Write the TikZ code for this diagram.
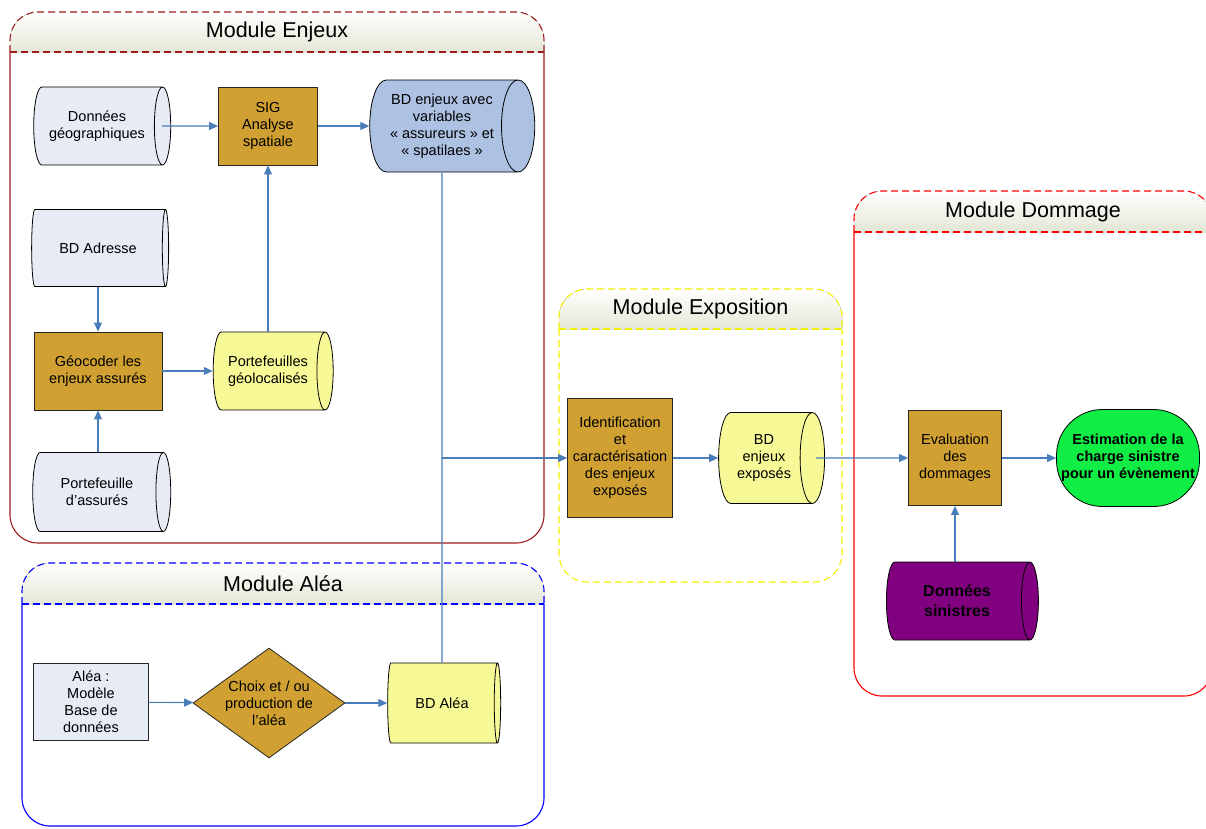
\documentclass[tikz,border=0pt]{standalone}
\usepackage{fontspec}
\setmainfont{Liberation Sans}
\usepackage{tikz}
\usetikzlibrary{shapes.geometric, arrows.meta}

\definecolor{ocre}{HTML}{D0A032}
\definecolor{bleupale}{HTML}{E6EBF5}
\definecolor{bleubd}{HTML}{ADC2E3}
\definecolor{jaunebd}{HTML}{F7F996}
\definecolor{vertvif}{HTML}{10EE46}
\definecolor{pourpre}{HTML}{800080}
\definecolor{fleche}{HTML}{4A7EBB}
\definecolor{bordeaux}{HTML}{9E1C1C}
\definecolor{entete}{HTML}{E3E7D5}
\definecolor{jaunemod}{HTML}{F2F200}

\begin{document}
\begin{tikzpicture}[x=1pt, y=-1pt, font=\fontsize{14.5}{17}\selectfont,
  tirets/.style={dash pattern=on 7pt off 4pt},
  base/.style={cylinder, draw=black, line width=0.8pt, aspect=0.5, align=center, inner sep=1pt},
  traitement/.style={rectangle, draw=black!85, line width=0.8pt, fill=ocre, align=center, inner sep=1pt},
  lien/.style={draw=fleche, line width=1.1pt, -{Triangle[length=9pt, width=8pt]}},
  ligne/.style={draw=fleche, line width=1.1pt}]
  \useasboundingbox (0,0) rectangle (1206,828);
  \clip (0,0) rectangle (1206,828);

  % modules
  \foreach \xa/\xb/\yh/\ys/\yb/\coul/\corps/\titre [count=\k] in
    {10/544/12/52/543/bordeaux/solid/Module Enjeux,
     22/544/563/604/826/blue/solid/Module Aléa,
     559/842/289/329/582/jaunemod/tirets/Module Exposition,
     854/1212/191/232/696/red/solid/Module Dommage} {
    \fill[top color=white, bottom color=entete, rounded corners=28pt]
      (\xa,\ys) -- (\xa,\yh) -- (\xb,\yh) -- (\xb,\ys);
    \draw[\coul, tirets, line width=1.1pt, rounded corners=28pt]
      (\xa,\ys) -- (\xa,\yh) -- (\xb,\yh) -- (\xb,\ys);
    \draw[\coul, tirets, line width=1.1pt] (\xa,\ys) -- (\xb,\ys);
    \draw[\coul, \corps, line width=1.1pt, rounded corners=28pt]
      (\xa,\ys) -- (\xa,\yb) -- (\xb,\yb) -- (\xb,\ys);
    \node[font=\fontsize{21.5}{24}\selectfont] (module\k) at ({(\xa+\xb)/2}, {(\yh+\ys)/2}) {\titre};
  }

  % module enjeux (minimum height = longueur, minimum width = diametre)
  \node[base, fill=bleupale, minimum height=137, minimum width=78] (geo) at (97,126) {Données\\géographiques};
  \node[traitement, minimum width=99, minimum height=78] (sig) at (268,126) {SIG\\Analyse\\spatiale};
  \node[base, fill=bleubd, minimum height=165, minimum width=92] (bdenjeux) at (442,126)
    {BD enjeux avec\\variables\\« assureurs » et\\« spatilaes »};
  \node[base, fill=bleupale, minimum height=137, minimum width=77] (adresse) at (98,248) {BD Adresse};
  \node[traitement, minimum width=128, minimum height=78] (geocoder) at (98,371) {Géocoder les\\enjeux assurés};
  \node[base, fill=jaunebd, minimum height=120, minimum width=78] (geoloc) at (268,371) {Portefeuilles\\géolocalisés};
  \node[base, fill=bleupale, minimum height=138, minimum width=79] (assures) at (97,492) {Portefeuille\\d’assurés};

  % module alea
  \node[rectangle, draw=black!85, line width=0.8pt, fill=bleupale, align=center, minimum width=115, minimum height=77]
    (alea) at (91,702) {Aléa :\\Modèle\\Base de\\données};
  \node[diamond, draw=black!85, line width=0.8pt, fill=ocre, align=center, aspect=1.4, inner sep=0pt,
    minimum width=152, minimum height=110] (choix) at (269,703) {Choix et / ou\\production de\\l’aléa};
  \node[base, fill=jaunebd, minimum height=113, minimum width=80] (bdalea) at (442,703) {BD Aléa};

  % module exposition
  \node[traitement, minimum width=105, minimum height=119] (ident) at (620,458)
    {Identification\\et\\caractérisation\\des enjeux\\exposés};
  \node[base, fill=jaunebd, minimum height=106, minimum width=91] (bdexpo) at (764,458) {BD\\enjeux\\exposés};

  % module dommage
  \node[traitement, minimum width=93, minimum height=95] (evaluation) at (955,458) {Evaluation\\des\\dommages};
  \node[rectangle, rounded corners=46pt, draw=black, line width=0.8pt, fill=vertvif, align=center,
    font=\fontsize{14.5}{17}\selectfont\bfseries, minimum width=143, minimum height=97, inner sep=0pt]
    (estimation) at (1128,458) {Estimation de la\\charge sinistre\\pour un évènement};
  \node[base, fill=pourpre, font=\fontsize{16}{20}\selectfont\bfseries, minimum height=152, minimum width=78]
    (sinistres) at (957,601) {Données\\sinistres};

  % liens
  \draw[lien] ([xshift=-9pt]geo.east) -- (sig);
  \draw[lien] (sig) -- (bdenjeux);
  \draw[lien] (sig.south |- geoloc.north) -- (sig.south);
  \draw[lien] (geocoder.north |- adresse.south) -- (geocoder.north);
  \draw[lien] (geocoder) -- (geoloc);
  \draw[lien] (geocoder.south |- assures.north) -- (geocoder.south);
  \draw[lien] (alea) -- (choix);
  \draw[lien] (choix) -- (bdalea);
  \draw[ligne] (bdenjeux.south) -- (bdalea.north);
  \draw[lien] (bdenjeux.south |- ident.west) -- (ident.west);
  \draw[lien] (ident) -- (bdexpo);
  \draw[lien] ([xshift=-9pt]bdexpo.east) -- (evaluation);
  \draw[lien] (evaluation) -- (estimation);
  \draw[lien] (evaluation.south |- sinistres.north) -- (evaluation.south);
\end{tikzpicture}
\end{document}
